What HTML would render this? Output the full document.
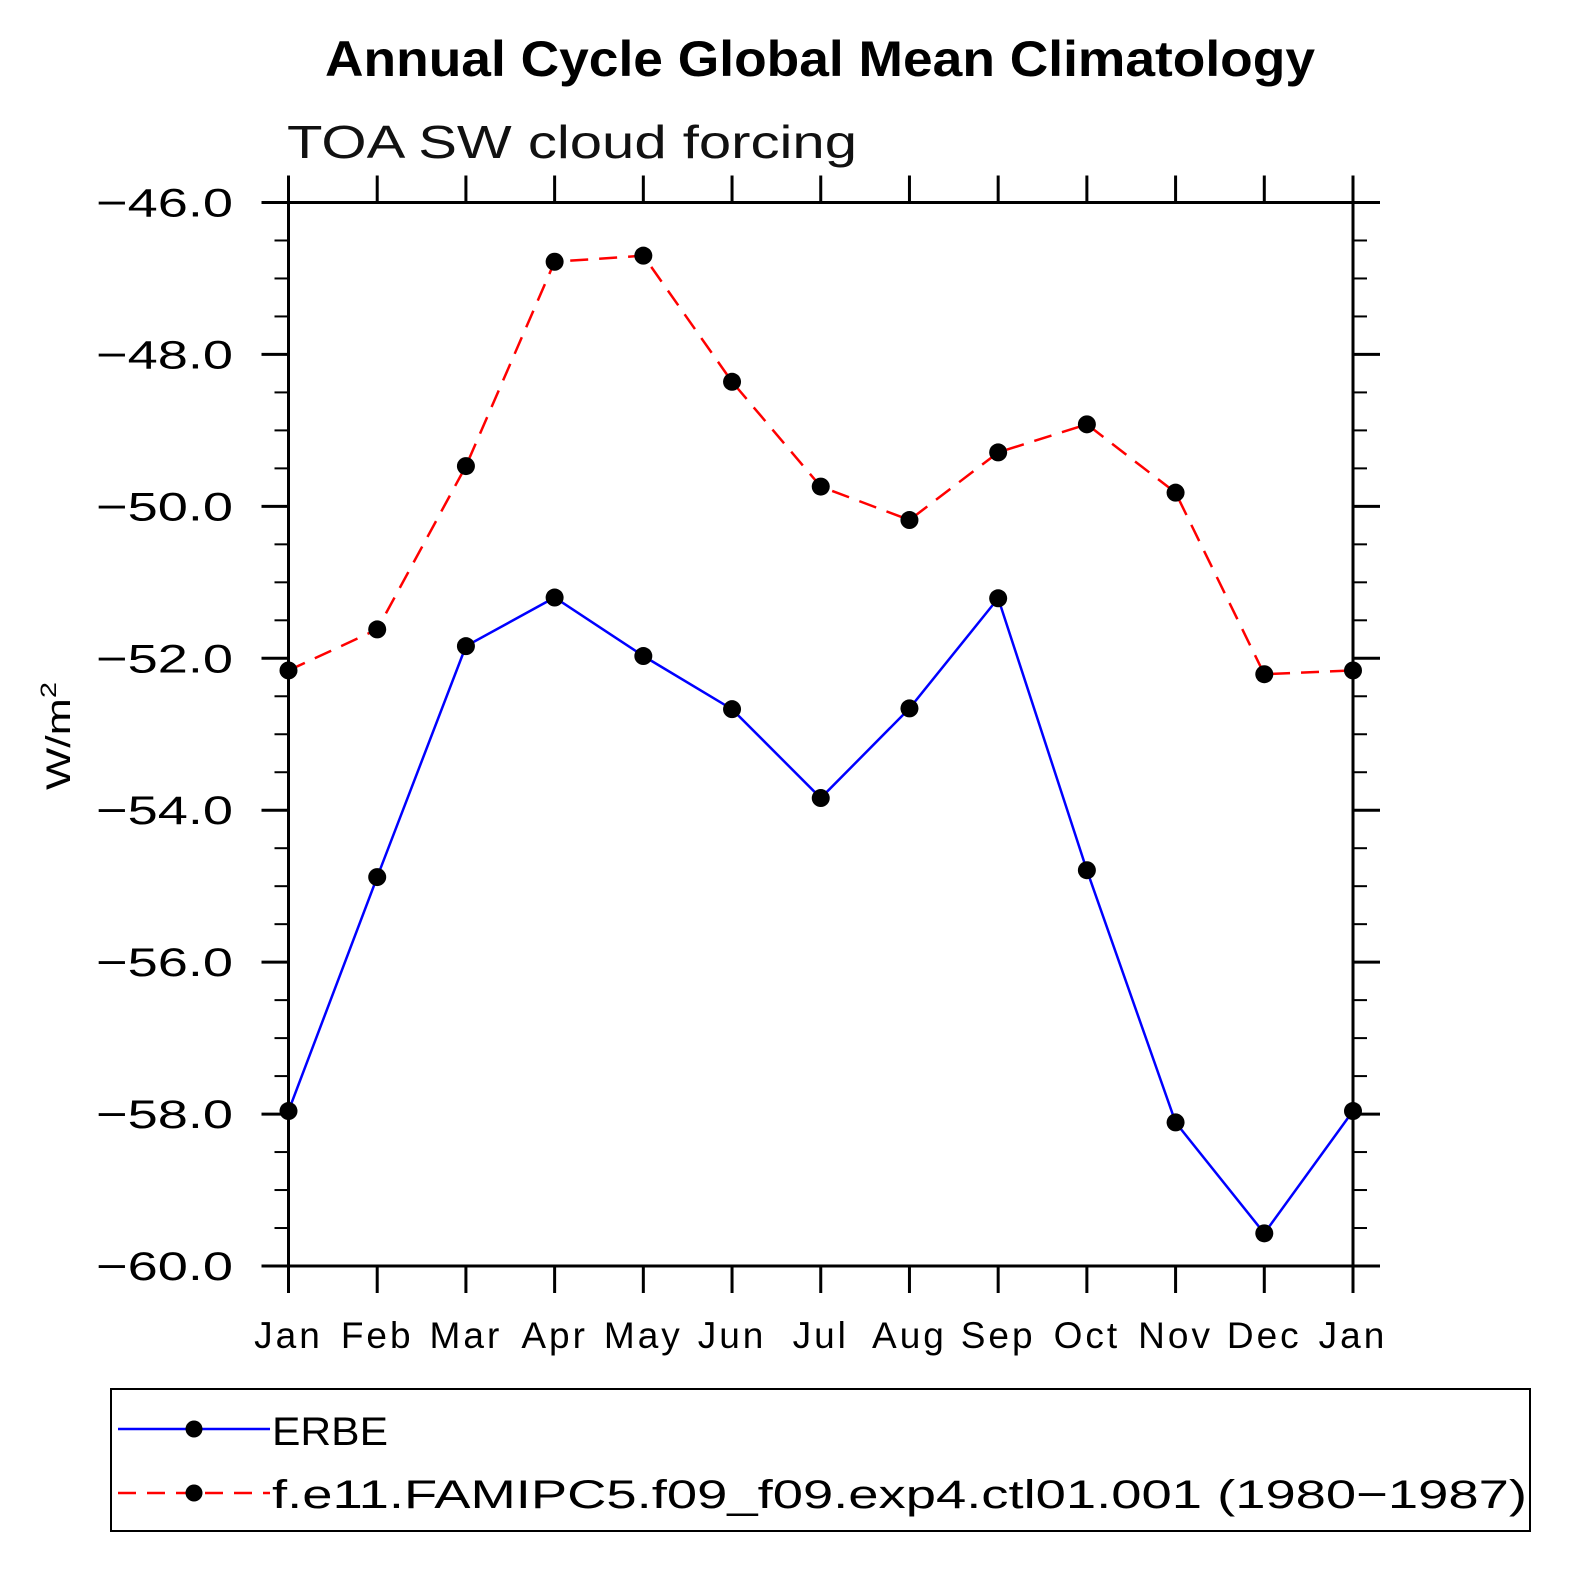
<!DOCTYPE html>
<html><head><meta charset="utf-8"><style>
html,body{margin:0;padding:0;background:#fff}
svg{display:block}
text{font-family:"Liberation Sans",sans-serif}
</style></head><body>
<svg id="chart" width="1574" height="1574" viewBox="0 0 1574 1574" xmlns="http://www.w3.org/2000/svg">
<text x="325" y="76" textLength="990" lengthAdjust="spacingAndGlyphs" font-size="50" font-weight="bold">Annual Cycle Global Mean Climatology</text>
<text x="287" y="158" textLength="570" lengthAdjust="spacingAndGlyphs" font-size="46" fill="#111">TOA SW cloud forcing</text>
<text transform="translate(70,790) rotate(-90)" font-size="34" textLength="108" lengthAdjust="spacingAndGlyphs">W/m<tspan font-size="22" dy="-14">2</tspan></text>
<g id="axes"></g>
<g id="series"></g>
<rect x="111" y="1389" width="1419" height="142" fill="none" stroke="#000" stroke-width="2"/>
<g>
<line x1="118" y1="1429" x2="270" y2="1429" stroke="#0000ff" stroke-width="2.5"/>
<circle cx="194" cy="1429" r="8.5" fill="#000"/>
<text x="272" y="1445" font-size="40" textLength="116" lengthAdjust="spacingAndGlyphs">ERBE</text>
</g>
<g>
<line x1="118" y1="1493" x2="270" y2="1493" stroke="#ff0000" stroke-width="2.5" stroke-dasharray="18,11"/>
<circle cx="194" cy="1493" r="8.5" fill="#000"/>
<text x="272" y="1508" font-size="40" textLength="1255" lengthAdjust="spacingAndGlyphs">f.e11.FAMIPC5.f09_f09.exp4.ctl01.001 (1980−1987)</text>
</g>
</svg>
<script>
const months = ["Jan","Feb","Mar","Apr","May","Jun","Jul","Aug","Sep","Oct","Nov","Dec","Jan"];
const erbe = [-57.96,-54.88,-51.84,-51.20,-51.97,-52.67,-53.84,-52.66,-51.21,-54.79,-58.11,-59.57,-57.96];
const model = [-52.16,-51.62,-49.47,-46.78,-46.70,-48.36,-49.74,-50.18,-49.29,-48.92,-49.82,-52.21,-52.16];
const yTicks = [-46,-48,-50,-52,-54,-56,-58,-60];
const yTickLabels = ["−46.0","−48.0","−50.0","−52.0","−54.0","−56.0","−58.0","−60.0"];

const NS="http://www.w3.org/2000/svg";
const X0=288.5,X1=1353,Y0=202.5,Y1=1266;
const yMin=-60,yMax=-46;
const xs=i=>X0+(X1-X0)*i/(months.length-1);
const ys=v=>Y1-(v-yMin)/(yMax-yMin)*(Y1-Y0);
function mk(tag,attrs,parent){const e=document.createElementNS(NS,tag);for(const k in attrs)e.setAttribute(k,attrs[k]);parent.appendChild(e);return e;}
const axes=document.getElementById('axes');
const frame=mk('rect',{x:X0,y:Y0,width:X1-X0,height:Y1-Y0,fill:'none',stroke:'#000','stroke-width':3},axes);


for(let v=yMin;v<=yMax+1e-9;v+=0.5){
  const y=ys(v);const major=Math.abs(v-Math.round(v))<1e-9&&Math.round(v)%2===0;
  const L=major?27:14;
  const t1=mk('line',{x1:X0-L,y1:y,x2:X0,y2:y,stroke:'#000','stroke-width':major?3:2},axes);
  
  
  const t2=mk('line',{x1:X1,y1:y,x2:X1+L,y2:y,stroke:'#000','stroke-width':major?3:2},axes);
  
  
}
yTicks.forEach((v,i)=>{
  const t=mk('text',{x:96,y:ys(v)+14,'font-size':40,textLength:137,lengthAdjust:'spacingAndGlyphs'},axes);
  t.textContent=yTickLabels[i];
  
  
});
months.forEach((m,i)=>{
  const x=xs(i);
  const a=mk('line',{x1:x,y1:Y0-27,x2:x,y2:Y0,stroke:'#000','stroke-width':3},axes);
  
  
  const b=mk('line',{x1:x,y1:Y1,x2:x,y2:Y1+27,stroke:'#000','stroke-width':3},axes);
  
  
  const t=mk('text',{x:x,y:1348,'text-anchor':'middle','font-size':37,'letter-spacing':3},axes);
  t.textContent=m;
  
  
});
const series=document.getElementById('series');
function drawSeries(vals,color,dash,name){
  const pts=vals.map((v,i)=>xs(i)+','+ys(v)).join(' ');
  const pl=mk('polyline',{points:pts,fill:'none',stroke:color,'stroke-width':2.5},series);
  if(dash)pl.setAttribute('stroke-dasharray',dash);
  
  
  vals.forEach((v,i)=>{
    const c=mk('circle',{cx:xs(i),cy:ys(v),r:9,fill:'#000'},series);
    
    
  });
}
drawSeries(model,'#ff0000','18,11','model');
drawSeries(erbe,'#0000ff',null,'erbe');
</script>
</body></html>
